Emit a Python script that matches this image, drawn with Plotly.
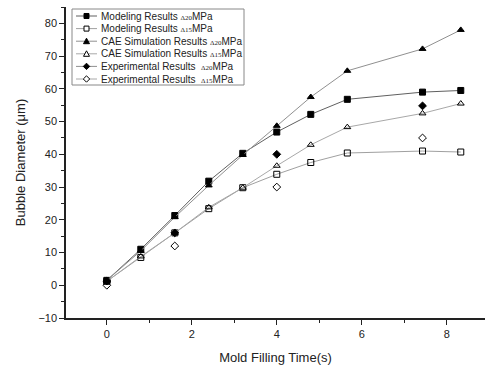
import plotly.graph_objects as go

t = [0, 0.8, 1.6, 2.4, 3.2, 4.0, 4.8, 5.66, 7.43, 8.33]
model_20 = [1.5, 11.0, 21.3, 31.8, 40.3, 46.8, 52.2, 56.8, 59.0, 59.5]
model_15 = [1.2, 8.5, 16.0, 23.4, 29.8, 33.9, 37.5, 40.4, 41.0, 40.7]
cae_20 = [1.5, 10.5, 20.8, 30.5, 39.8, 48.7, 57.5, 65.5, 72.2, 78.0]
cae_15 = [1.2, 8.8, 16.0, 23.8, 29.8, 36.5, 42.9, 48.3, 52.5, 55.5]
t_exp = [0, 1.6, 4.0, 7.43]
exp_20 = [1.3, 16.0, 40.0, 54.8]
exp_15 = [0.0, 12.0, 30.0, 45.0]

legend_names = [
    ("Modeling Results ", "Δ20"),
    ("Modeling Results ", "Δ15"),
    ("CAE Simulation Results ", "Δ20"),
    ("CAE Simulation Results ", "Δ15"),
    ("Experimental Results  ", "Δ20"),
    ("Experimental Results  ", "Δ15"),
]

W, H = 485, 372
ML, MR, MT, MB = 66, 0, 7, 54
PW, PH = W - ML - MR, H - MT - MB

def px(x):
    return (x - ML) / PW

def py(y):
    return (H - MB - y) / PH

fig = go.Figure()
series = [
    (t, model_20, "square", "#606060", "lines+markers", True),
    (t, model_15, "square-open", "#a0a0a0", "lines+markers", False),
    (t, cae_20, "triangle-up", "#909090", "lines+markers", True),
    (t, cae_15, "triangle-up-open", "#a8a8a8", "lines+markers", False),
    (t_exp, exp_20, "diamond", "#909090", "markers", True),
    (t_exp, exp_15, "diamond-open", "#a8a8a8", "markers", False),
]
for (x, y, sym, lc, mode, filled), (n1, n2) in zip(series, legend_names):
    fig.add_trace(go.Scatter(
        x=x, y=y, name=n1 + n2 + "MPa", mode=mode, showlegend=False,
        line=dict(color=lc, width=1),
        marker=dict(symbol=sym, color="black", size=6, line=dict(color="black", width=1)),
    ))

# custom compact legend (decoration)
shapes = [dict(type="rect", xref="paper", yref="paper",
               x0=px(72), x1=px(244), y0=py(85), y1=py(9),
               line=dict(color="#888", width=1), fillcolor="white", layer="above")]
annotations = []
for i, ((x, y, sym, lc, mode, filled), (n1, n2)) in enumerate(zip(series, legend_names)):
    cy = 16 + 12.6 * i
    cx = 86.5
    shapes.append(dict(type="line", xref="paper", yref="paper",
                       x0=px(76), x1=px(97), y0=py(cy), y1=py(cy),
                       line=dict(color=lc, width=1), layer="above"))
    fill = "black" if filled else "white"
    if sym.startswith("square"):
        pts = [(cx - 2.5, cy - 2.5), (cx + 2.5, cy - 2.5), (cx + 2.5, cy + 2.5), (cx - 2.5, cy + 2.5)]
    elif sym.startswith("triangle"):
        pts = [(cx - 3, cy + 2.5), (cx + 3, cy + 2.5), (cx, cy - 3)]
    else:
        pts = [(cx, cy - 3.2), (cx + 3.2, cy), (cx, cy + 3.2), (cx - 3.2, cy)]
    path = "M " + " L ".join(f"{px(a):.5f},{py(b):.5f}" for a, b in pts) + " Z"
    shapes.append(dict(type="path", xref="paper", yref="paper", path=path,
                       fillcolor=fill, line=dict(color="black", width=1), layer="above"))
    annotations.append(dict(
        xref="paper", yref="paper", x=px(99), y=py(cy), xanchor="left", yanchor="middle",
        showarrow=False,
        text=n1 + f"<span style='font-family:Liberation Serif;font-size:7px'>{n2}</span>MPa",
        font=dict(size=10, color="#222", family="Liberation Sans, Arial"),
    ))

fig.update_layout(
    width=W, height=H,
    margin=dict(l=ML, r=MR, t=MT, b=MB),
    paper_bgcolor="white", plot_bgcolor="white",
    font=dict(family="Liberation Sans, Arial", color="#222"),
    showlegend=False,
    shapes=shapes, annotations=annotations,
    xaxis=dict(range=[-0.96, 8.9], tickvals=[0, 2, 4, 6, 8],
               ticks="outside", ticklen=5, tickwidth=1, tickcolor="#222",
               showline=True, linecolor="#222", linewidth=1.5,
               showgrid=False, zeroline=False,
               minor=dict(ticks="outside", dtick=1, tick0=0, ticklen=3, tickcolor="#222", showgrid=False),
               tickfont=dict(size=11),
               title=dict(text="Mold Filling Time(s)", font=dict(size=13), standoff=14)),
    yaxis=dict(range=[-10, 85], tickvals=list(range(-10, 90, 10)),
               ticks="outside", ticklen=5, tickwidth=1, tickcolor="#222",
               showline=True, linecolor="#222", linewidth=1.5,
               showgrid=False, zeroline=False,
               minor=dict(ticks="outside", dtick=5, tick0=0, ticklen=3, tickcolor="#222", showgrid=False),
               tickfont=dict(size=11),
               title=dict(text="Bubble Diameter (μm)", font=dict(size=13), standoff=10)),
)

fig.write_html("out.html")
